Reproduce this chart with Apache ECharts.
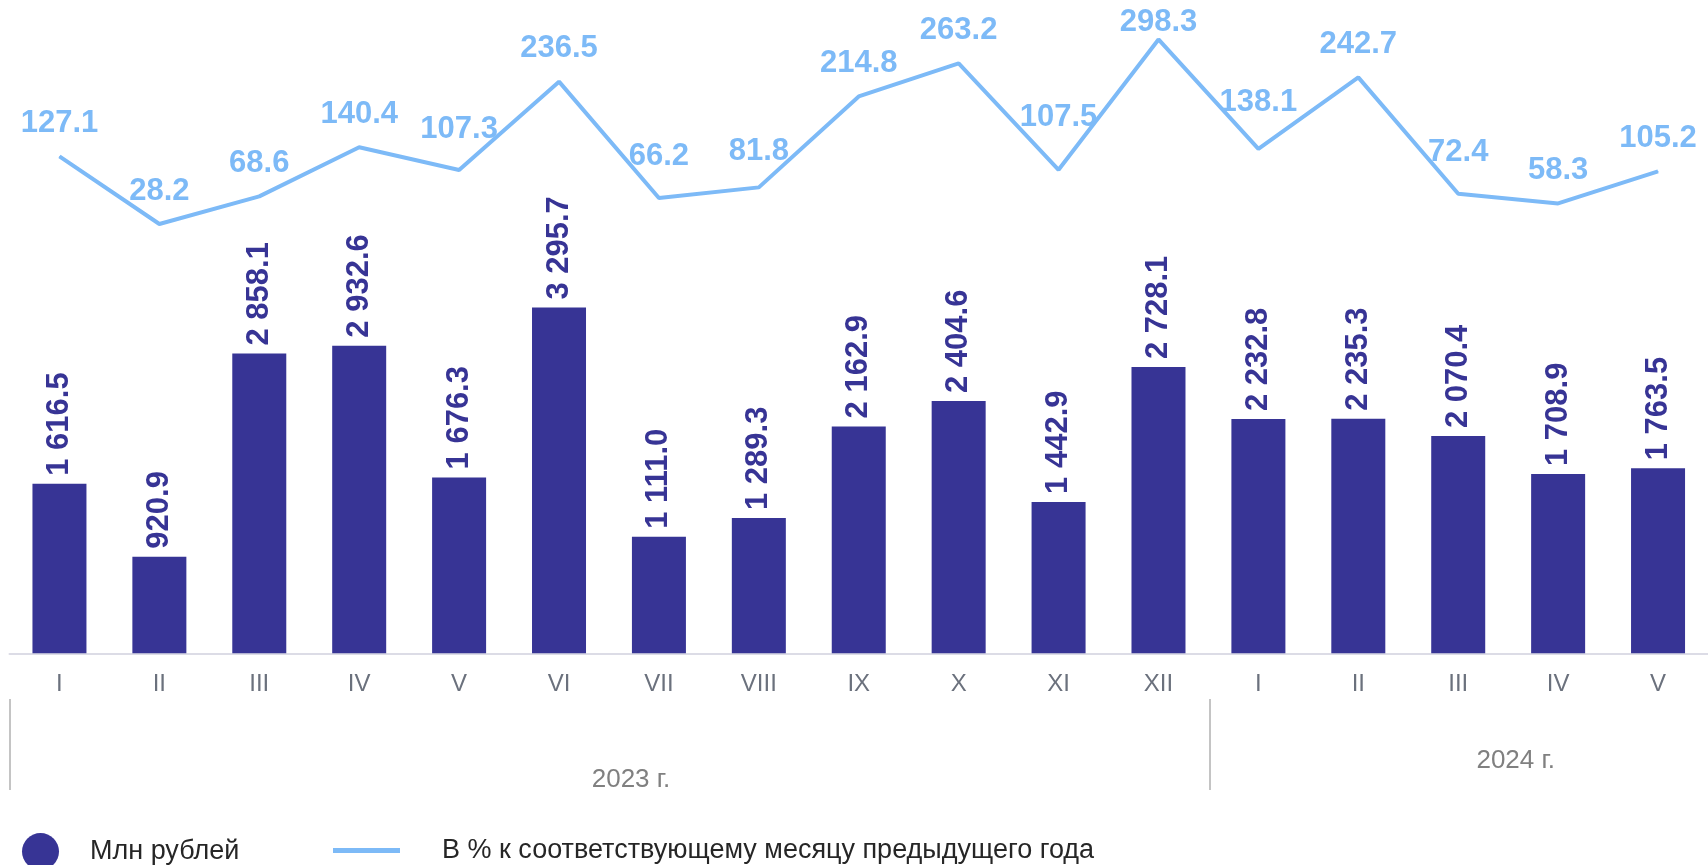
<!DOCTYPE html>
<html>
<head>
<meta charset="utf-8">
<script src="https://cdn.jsdelivr.net/npm/echarts@6/dist/echarts.min.js"></script>
<style>
  html, body { margin: 0; padding: 0; background: #ffffff; }
  #chart { width: 1708px; height: 865px; }
</style>
</head>
<body>
<div id="chart"></div>
<script>
// ---- data ----
const months = ['I','II','III','IV','V','VI','VII','VIII','IX','X','XI','XII','I','II','III','IV','V'];
const millionRub = [1616.5, 920.9, 2858.1, 2932.6, 1676.3, 3295.7, 1111.0, 1289.3, 2162.9, 2404.6, 1442.9, 2728.1, 2232.8, 2235.3, 2070.4, 1708.9, 1763.5];
const pctPrevYear = [127.1, 28.2, 68.6, 140.4, 107.3, 236.5, 66.2, 81.8, 214.8, 263.2, 107.5, 298.3, 138.1, 242.7, 72.4, 58.3, 105.2];
const yearLabels = ['2023 г.', '2024 г.'];
const months2023 = months.slice(0, 12);
const seriesNames = ['Млн рублей', 'В % к соответствующему месяцу предыдущего года'];

// ---- helpers ----
function fmtSpace(v) {
  const parts = v.toFixed(1).split('.');
  return parts[0].replace(/\B(?=(\d{3})+(?!\d))/g, ' ') + '.' + parts[1];
}

const FONT = '"Liberation Sans", Arial, Helvetica, sans-serif';
const BAR_COLOR = '#373495';
const LINE_COLOR = '#7DBAF7';
const BAND = 1700.8 / months.length;

const chart = echarts.init(document.getElementById('chart'), null, { renderer: 'canvas' });

// topmost y of the percentage line between pixel x0 and x1
function lineTopY(x0, x1) {
  const pts = pctPrevYear.map(function (v, k) { return chart.convertToPixel({ seriesIndex: 1 }, [k, v]); });
  function yAt(x) {
    for (let k = 0; k < pts.length - 1; k++) {
      const a = pts[k], b = pts[k + 1];
      if (x >= a[0] && x <= b[0]) {
        return a[1] + (b[1] - a[1]) * (x - a[0]) / (b[0] - a[0]);
      }
    }
    return Infinity;
  }
  let top = Math.min(yAt(x0), yAt(x1));
  pts.forEach(function (p) { if (p[0] >= x0 && p[0] <= x1) top = Math.min(top, p[1]); });
  return top;
}

const option = {
  backgroundColor: '#ffffff',
  animation: false,
  textStyle: { fontFamily: FONT },
  grid: [
    { left: 9.5, width: 1700.8, top: 23.9, bottom: 211.7, containLabel: false },
    // row of the 2023 year group (separators at its two edges)
    { left: 9.5, width: BAND * 12, top: 699, height: 91, containLabel: false }
  ],
  legend: [
    {
      data: [seriesNames[0]],
      left: 22, top: 833, padding: 0,
      icon: 'circle',
      itemWidth: 37, itemHeight: 37,
      textStyle: { fontFamily: FONT, fontSize: 27, color: '#262626', padding: [0, 0, 0, 26] }
    },
    {
      data: [seriesNames[1]],
      left: 333, top: 837, padding: 0,
      icon: 'rect',
      itemWidth: 67, itemHeight: 5,
      textStyle: { fontFamily: FONT, fontSize: 27, color: '#262626', padding: [0, 0, 0, 37] }
    }
  ],
  xAxis: [
    {
      type: 'category',
      data: months,
      gridIndex: 0,
      position: 'bottom',
      boundaryGap: true,
      axisLine: { show: true, onZero: false, lineStyle: { color: '#dcdce6', width: 2 } },
      axisTick: { show: false },
      axisLabel: { interval: 0, fontSize: 24, color: '#6b717d', margin: 19, fontFamily: FONT }
    },
    {
      type: 'category',
      data: months,
      gridIndex: 0,
      position: 'bottom',
      offset: 45.7,
      boundaryGap: true,
      axisLine: { show: false, onZero: false },
      axisTick: { show: false },
      axisLabel: {
        interval: 0,
        margin: 49,
        formatter: function (value, index) {
          if (index === 5) return '{a|' + yearLabels[0] + '}';
          if (index === 14) return '{b|' + yearLabels[1] + '}';
          return '';
        },
        rich: {
          a: { fontSize: 26, color: '#808080', fontFamily: FONT, padding: [19, 0, 0, 144] },
          b: { fontSize: 26, color: '#808080', fontFamily: FONT, padding: [0, 0, 0, 115] }
        }
      }
    },
    {
      type: 'category',
      data: months2023,
      gridIndex: 1,
      boundaryGap: true,
      axisLine: { show: false, onZero: false },
      axisTick: { show: false },
      axisLabel: { show: false },
      splitLine: {
        show: true,
        interval: function (index) { return index === 0; },
        lineStyle: { color: '#c4c4c4', width: 2 }
      }
    }
  ],
  yAxis: [
    { type: 'value', gridIndex: 0, min: 0, max: 6000, show: false, splitLine: { show: false } },
    { type: 'value', gridIndex: 0, min: -600, max: 321, show: false, splitLine: { show: false } },
    { type: 'value', gridIndex: 1, min: 0, max: 1, show: false, splitLine: { show: false } }
  ],
  series: [
    {
      name: seriesNames[0],
      type: 'bar',
      xAxisIndex: 0,
      yAxisIndex: 0,
      data: millionRub,
      barWidth: 54,
      itemStyle: { color: BAR_COLOR },
      label: {
        show: true,
        position: 'top',
        distance: 8,
        rotate: 90,
        align: 'left',
        verticalAlign: 'middle',
        fontFamily: FONT,
        fontSize: 31,
        fontWeight: 'bold',
        color: BAR_COLOR,
        formatter: function (p) { return fmtSpace(p.value); }
      }
    },
    {
      name: seriesNames[1],
      type: 'line',
      xAxisIndex: 0,
      yAxisIndex: 1,
      data: pctPrevYear,
      symbol: 'circle',
      symbolSize: 1,
      showSymbol: true,
      lineStyle: { color: LINE_COLOR, width: 4 },
      itemStyle: { color: LINE_COLOR },
      z: 3,
      label: {
        show: true,
        position: 'top',
        distance: 17,
        fontFamily: FONT,
        fontSize: 31,
        fontWeight: 'bold',
        color: LINE_COLOR,
        formatter: function (p) { return p.value.toFixed(1); }
      },
      // lift labels clear of the line, but keep them inside the canvas
      labelLayout: function (params) {
        const r = params.labelRect;
        let dy = 0;
        try {
          const top = lineTopY(r.x + r.width * 0.15, r.x + r.width * 0.85);
          const bottom = r.y + r.height;
          if (isFinite(top) && bottom > top - 1) dy = (top - 1) - bottom;
        } catch (e) { dy = 0; }
        const minTop = 7;
        if (r.y + dy < minTop) dy = minTop - r.y;
        return dy ? { dy: dy } : {};
      }
    }
  ]
};

chart.setOption(option);
</script>
</body>
</html>
